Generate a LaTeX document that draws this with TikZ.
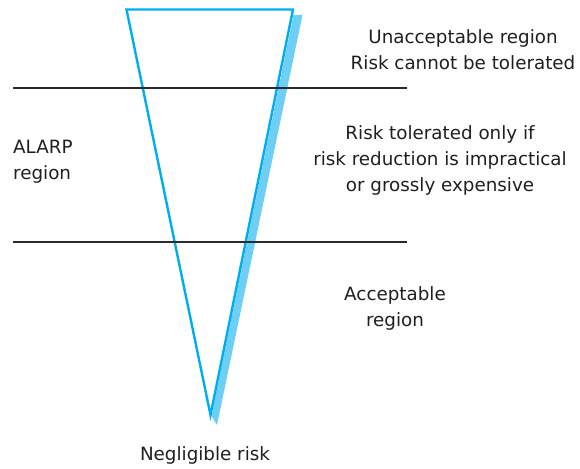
\documentclass[tikz,border=0pt]{standalone}
\usepackage{fontspec}
\setmainfont{DejaVu Sans}
\definecolor{tri}{HTML}{00AEEF}
\definecolor{shadowblue}{HTML}{6DCFF6}
\definecolor{rule}{HTML}{2A2A2A}
\begin{document}
\begin{tikzpicture}[x=1pt,y=-1pt,
  lbl/.style={font=\fontsize{18.3}{26}\selectfont, align=center, inner sep=0pt, text=black!88},
  sep/.style={draw=rule, line width=1.3pt}]
\useasboundingbox (0,0) rectangle (580,468);
\coordinate (tl) at (126.5,9.5);
\coordinate (tr) at (293,9.5);
\coordinate (ap) at (210.5,415);
\fill[shadowblue] (293.5,15) -- (302.5,15) -- (217,425) -- (211.5,416) -- cycle;
\draw[tri, line width=2.4pt, line join=miter] (tl) -- (tr) -- (ap) -- cycle;
\coordinate (a1) at (13,88);
\coordinate (b1) at (407,88);
\coordinate (a2) at (13,242);
\coordinate (b2) at (407,242);
\draw[sep] (a1) -- (b1);
\draw[sep] (a2) -- (b2);
\node[lbl] (unacc) at (463,49.5) {Unacceptable region\\Risk cannot be tolerated};
\node[lbl, align=left, anchor=west] (alarp) at (13,161.5) {ALARP\\region};
\node[lbl] (tol) at (440,160) {Risk tolerated only if\\risk reduction is impractical\\or grossly expensive};
\node[lbl] (acc) at (395,308) {Acceptable\\region};
\node[lbl] (neg) at (205,455) {Negligible risk};
\end{tikzpicture}
\end{document}
